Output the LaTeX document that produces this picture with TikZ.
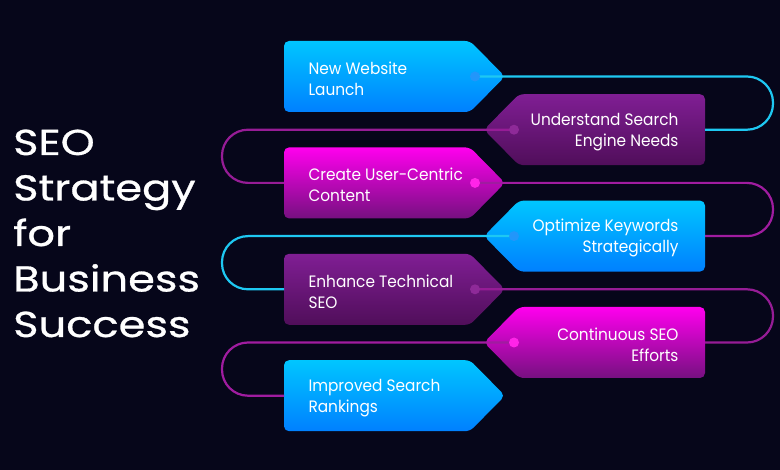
\documentclass[tikz,border=0pt]{standalone}
\usepackage{fontspec}
\setmainfont{Poppins}[FakeStretch=0.93]
\newfontfamily\titlefont{Poppins}[FakeStretch=1.2, FakeBold=0.8]
\usepackage{tikz}

\definecolor{bgnavy}{RGB}{6,6,26}
\definecolor{blutop}{RGB}{0,198,255}
\definecolor{blubot}{RGB}{0,128,255}
\definecolor{magtop}{RGB}{255,0,238}
\definecolor{magbot}{RGB}{118,16,128}
\definecolor{purtop}{RGB}{128,30,148}
\definecolor{purbot}{RGB}{80,14,90}
\definecolor{bludot}{RGB}{34,150,250}
\definecolor{magdot}{RGB}{255,36,232}
\definecolor{purdot}{RGB}{142,42,152}
\definecolor{blulink}{RGB}{30,200,242}
\definecolor{maglink}{RGB}{160,28,160}
\definecolor{purlink}{RGB}{150,28,150}

\tikzset{
        blu/.style={top color=blutop, bottom color=blubot},
        mag/.style={top color=magtop, bottom color=magbot},
        pur/.style={top color=purtop, bottom color=purbot},
        tagtext/.style={text=white, font=\fontsize{16.5}{21}\selectfont},
        titletext/.style={text=white, font=\titlefont\fontsize{36}{45}\selectfont, inner sep=0pt},
        looplink/.style={line width=2.2pt, rounded corners=26pt},
}

\begin{document}
\begin{tikzpicture}[x=1pt, y=-1pt]
        \fill[bgnavy] (0,0) rectangle (780,470);
        \useasboundingbox (0,0) rectangle (780,470);
        \coordinate (lft) at (222,0);
        \coordinate (rgt) at (773,0);

        \foreach \n/\w in {1/SEO, 2/Strategy, 3/for, 4/Business, 5/Success}
                \node[titletext, anchor=base west] (ttl\n) at (13,{155+45.5*(\n-1)}) {\w};

        \foreach \i/\s/\c/\t in {1/L/blu/{New Website\\Launch},
                        2/R/pur/{Understand Search\\Engine Needs},
                        3/L/mag/{Create User-Centric\\Content},
                        4/R/blu/{Optimize Keywords\\Strategically},
                        5/L/pur/{Enhance Technical\\SEO},
                        6/R/mag/{Continuous SEO\\Efforts},
                        7/L/blu/{Improved Search\\Rankings}} {
                \pgfmathsetmacro{\y}{76.5+53.2*(\i-1)}
                \if\s L
                        \path[\c, rounded corners=5pt] (284,\y-35.5) -- (470,\y-35.5) -- (505,\y)
                                -- (470,\y+35.5) -- (284,\y+35.5) -- cycle;
                        \coordinate (edge\i) at (284,\y);
                        \coordinate (dot\i) at (475,\y);
                        \node[tagtext, anchor=west, align=left] (tag\i) at (305,\y+2) {\t};
                \else
                        \path[\c, rounded corners=5pt] (705,\y-35.5) -- (519,\y-35.5) -- (484,\y)
                                -- (519,\y+35.5) -- (705,\y+35.5) -- cycle;
                        \coordinate (edge\i) at (705,\y);
                        \coordinate (dot\i) at (514,\y);
                        \node[tagtext, anchor=east, align=right] (tag\i) at (682,\y+2) {\t};
                \fi
        }

        \foreach \i/\j/\c in {1/2/blu, 3/4/mag, 5/6/pur}
                \draw[looplink, \c link] (dot\i) -- (dot\i -| rgt) -- (edge\j -| rgt) -- (edge\j);
        \foreach \i/\j/\c in {2/3/pur, 4/5/blu, 6/7/mag}
                \draw[looplink, \c link] (dot\i) -- (dot\i -| lft) -- (edge\j -| lft) -- (edge\j);

        \foreach \i/\c in {1/blu, 2/pur, 3/mag, 4/blu, 5/pur, 6/mag}
                \fill[\c dot] (dot\i) circle (5);
\end{tikzpicture}
\end{document}
